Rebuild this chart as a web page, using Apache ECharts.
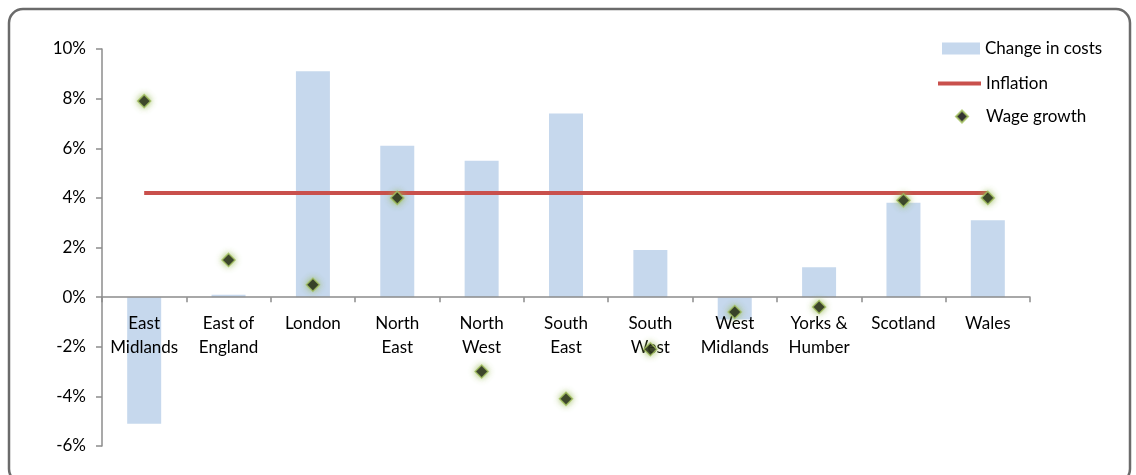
<!DOCTYPE html>
<html>
<head>
<meta charset="utf-8">
<script src="https://cdn.jsdelivr.net/npm/echarts@6/dist/echarts.min.js"></script>
<style>
  html, body { margin: 0; padding: 0; background: #fff; }
  #chart { width: 1136px; height: 475px; }
</style>
</head>
<body>
<div id="chart"></div>
<script>
// Regional change in costs vs. inflation and wage growth (percent)
const regions = ['East\nMidlands', 'East of\nEngland', 'London', 'North\nEast', 'North\nWest',
  'South\nEast', 'South\nWest', 'West\nMidlands', 'Yorks &\nHumber', 'Scotland', 'Wales'];
const changeInCosts = [-5.1, 0.1, 9.1, 6.1, 5.5, 7.4, 1.9, -0.9, 1.2, 3.8, 3.1];
const inflation = [4.2, 4.2, 4.2, 4.2, 4.2, 4.2, 4.2, 4.2, 4.2, 4.2, 4.2];
const wageGrowth = [7.9, 1.5, 0.5, 4.0, -3.0, -4.1, -2.1, -0.6, -0.4, 3.9, 4.0];
const yTicks = { min: -6, max: 10, step: 2 };

const FONT = 'Lato, "Open Sans", sans-serif';
const AXIS_GREY = '#8c8c8c';
const GRID = { left: 102, right: 106, top: 49, bottom: 29 };
const PLOT_H = 475 - GRID.top - GRID.bottom;
// lift the category axis from the grid bottom up to the 0% line
const zeroOffset = -PLOT_H * (0 - yTicks.min) / (yTicks.max - yTicks.min);

const legendText = { fontFamily: FONT, fontSize: 17, color: '#000' };

const chart = echarts.init(document.getElementById('chart'));
chart.setOption({
  animation: false,
  backgroundColor: '#fff',
  textStyle: { fontFamily: FONT, color: '#000' },
  graphic: [{
    type: 'rect',
    shape: { x: 9, y: 9, width: 1121, height: 474, r: 14 },
    style: { fill: 'none', stroke: '#6b6b6b', lineWidth: 2.5 },
    silent: true
  }],
  grid: Object.assign({ outerBoundsMode: 'none', containLabel: false }, GRID),
  legend: [
    {
      data: ['Change in costs'], orient: 'vertical', left: 942, top: 40, padding: 0,
      icon: 'rect', itemWidth: 38, itemHeight: 12,
      textStyle: legendText
    },
    {
      data: [{ name: 'Inflation', icon: 'rect' }], orient: 'vertical', left: 938, top: 75, padding: 0,
      itemWidth: 43, itemHeight: 4,
      textStyle: legendText
    },
    {
      data: ['Wage growth'], orient: 'vertical', left: 955, top: 108, padding: 0,
      icon: 'diamond', itemWidth: 12, itemHeight: 12,
      textStyle: Object.assign({ padding: [0, 0, 0, 13] }, legendText)
    }
  ],
  xAxis: {
    type: 'category',
    data: regions,
    boundaryGap: true,
    position: 'bottom',
    offset: zeroOffset,
    z: 5,
    axisLine: { onZero: false, lineStyle: { color: AXIS_GREY, width: 1.5 } },
    axisTick: { show: true, length: 5, lineStyle: { color: AXIS_GREY, width: 1.5 } },
    axisLabel: { fontFamily: FONT, fontSize: 17, color: '#000', lineHeight: 24, margin: 14, interval: 0 },
    splitLine: { show: false }
  },
  yAxis: {
    type: 'value',
    min: yTicks.min, max: yTicks.max, interval: yTicks.step,
    axisLine: { show: true, lineStyle: { color: AXIS_GREY, width: 1.5 } },
    axisTick: { show: true, length: 6, lineStyle: { color: AXIS_GREY, width: 1.5 } },
    axisLabel: { fontFamily: FONT, fontSize: 17, color: '#000', margin: 16, formatter: v => v + '%' },
    splitLine: { show: false }
  },
  series: [
    {
      name: 'Change in costs',
      type: 'bar',
      data: changeInCosts,
      barWidth: 34,
      itemStyle: { color: '#c6d8ed' },
      z: 1
    },
    {
      name: 'Inflation',
      type: 'line',
      data: inflation,
      symbol: 'none',
      lineStyle: { color: '#c9504c', width: 4 },
      itemStyle: { color: '#c9504c' },
      z: 6
    },
    {
      name: 'Wage growth',
      type: 'scatter',
      data: wageGrowth,
      symbol: 'diamond',
      symbolSize: 13,
      itemStyle: {
        color: '#000',
        borderColor: '#a4c25f',
        borderWidth: 1.5,
        shadowBlur: 6,
        shadowColor: 'rgba(150,185,80,0.95)'
      },
      z: 7
    }
  ]
});
</script>
</body>
</html>
